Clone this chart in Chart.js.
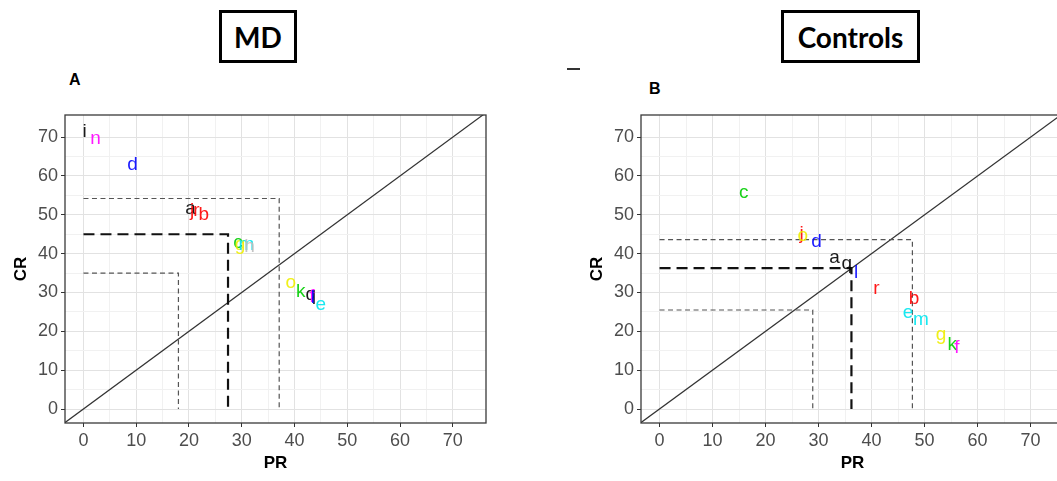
<!DOCTYPE html>
<html>
<head>
<meta charset="utf-8">
<script src="https://cdn.jsdelivr.net/npm/chart.js@4"></script>
<style>
  html, body { margin: 0; padding: 0; background: #fff; width: 1057px; height: 481px; overflow: hidden; }
  .panel { position: absolute; top: 100px; width: 500px; height: 381px; }
  .boxtitle { position: absolute; top: 10px; height: 53px; box-sizing: border-box; border: 3px solid #000;
              display: flex; align-items: center; justify-content: center;
              font: bold 28px Lato, "Open Sans", sans-serif; color: #000; }
  .tag { position: absolute; font: bold 16px "Liberation Sans", Arial, sans-serif; color: #000; }
  .dash { position: absolute; left: 567px; top: 68px; width: 13px; height: 2px; background: #333; }
</style>
</head>
<body>
<div class="boxtitle" style="left:219px;width:78px;">MD</div>
<div class="boxtitle" style="left:781px;width:139px;">Controls</div>
<div class="tag" style="left:69px;top:71px;">A</div>
<div class="dash"></div>
<div class="tag" style="left:649px;top:80px;">B</div>
<div class="panel" style="left:0px;"><canvas id="md" width="500" height="381"></canvas></div>
<div class="panel" style="left:576px;"><canvas id="ctl" width="500" height="381"></canvas></div>

<script>
// Axis ticks (labelled every 10, minor grid every 5)
const majorTicks = [0, 10, 20, 30, 40, 50, 60, 70];
const minorTicks = [5, 15, 25, 35, 45, 55, 65];

// MD group: subject letters with PR and CR values
const mdLetters = ['i', 'n', 'd', 'a', 'j', 'r', 'b', 'c', 'g', 'm', 'h', 'o', 'k', 'q', 'f', 'l', 'e'];
const mdPR      = [0.2, 2.3, 9.3, 20.3, 20.6, 21.4, 22.8, 29.3, 29.7, 30.9, 31.5, 39.3, 41.2, 43.1, 43.3, 43.5, 45.0];
const mdCR      = [71.5, 69.7, 62.8, 51.5, 51.0, 51.0, 50.0, 42.8, 42.4, 42.2, 41.7, 32.4, 30.1, 29.3, 29.0, 28.6, 26.8];

// MD reference lines: low, mean, high
const mdGuidePR = [18.0, 27.4, 37.1];
const mdGuideCR = [35.0, 45.0, 54.2];

// Control group
const ctlLetters = ['c', 'j', 'o', 'd', 'a', 'q', 'l', 'r', 'b', 'e', 'm', 'g', 'k', 'f'];
const ctlPR      = [15.9, 26.8, 27.0, 29.6, 33.0, 35.3, 37.1, 40.9, 48.0, 46.9, 49.3, 53.1, 55.2, 56.1];
const ctlCR      = [55.6, 45.0, 44.5, 43.0, 38.9, 37.5, 35.0, 30.9, 28.3, 24.7, 22.9, 19.0, 16.5, 15.7];

const ctlGuidePR = [28.9, 36.2, 47.7];
const ctlGuideCR = [25.5, 36.3, 43.6];

// Letter colours cycle through the classic eight-colour palette
const paletteColours = ['#000000', '#FF0000', '#00CD00', '#0000FF', '#00E5EE', '#FF00FF', '#EEEE00', '#BEBEBE'];
function letterColour(ch) {
  return paletteColours[(ch.charCodeAt(0) - 97) % paletteColours.length];
}

const axisFont = '"Liberation Sans", Arial, sans-serif';

// Draws each subject letter at its (PR, CR) position, plus the panel border
const letterPlugin = {
  id: 'letters',
  afterDatasetsDraw(chart) {
    const { ctx, chartArea, scales } = chart;
    const pts = chart.config.options.plugins.letters;
    ctx.save();
    ctx.font = '19px ' + axisFont;
    ctx.textAlign = 'center';
    ctx.textBaseline = 'middle';
    pts.letters.forEach((ch, i) => {
      ctx.fillStyle = letterColour(ch);
      ctx.globalAlpha = 0.9;
      ctx.fillText(ch, scales.x.getPixelForValue(pts.pr[i]), scales.y.getPixelForValue(pts.cr[i]));
    });
    ctx.globalAlpha = 1;
    ctx.strokeStyle = '#3a3a3a';
    ctx.lineWidth = 1.3;
    ctx.strokeRect(chartArea.left, chartArea.top, chartArea.right - chartArea.left, chartArea.bottom - chartArea.top);
    ctx.restore();
  }
};

function guideLine(px, cy, thick) {
  return {
    data: [{ x: 0, y: cy }, { x: px, y: cy }, { x: px, y: 0 }],
    showLine: true,
    borderColor: thick ? '#111' : '#555',
    borderWidth: thick ? 2.2 : 1.2,
    borderDash: thick ? [11, 6] : [5, 3.5],
    pointRadius: 0,
    fill: false
  };
}

function buildScale(titleText, isX) {
  return {
    type: 'linear',
    min: isX ? -3.5 : -3.6,
    max: isX ? 76.3 : 75.7,
    afterBuildTicks(scale) {
      scale.ticks = majorTicks.concat(minorTicks).sort((a, b) => a - b).map(v => ({ value: v }));
    },
    afterFit(scale) {
      if (isX) scale.height = 58; else scale.width = 65;
    },
    border: { display: false },
    grid: {
      color: c => (c.tick && c.tick.value % 10 === 0) ? '#e2e2e2' : '#f1f1f1',
      lineWidth: 1,
      tickLength: 4,
      tickColor: c => (c.tick && c.tick.value % 10 === 0) ? '#333' : 'rgba(0,0,0,0)'
    },
    ticks: {
      autoSkip: false,
      maxRotation: 0,
      padding: 3,
      color: '#4d4d4d',
      font: { size: 18, family: axisFont },
      callback: v => (v % 10 === 0 ? v : '')
    },
    title: {
      display: true,
      text: titleText,
      color: '#000',
      font: { size: 17, weight: 'bold', family: axisFont },
      padding: isX ? { top: 0, bottom: 7 } : { top: 11, bottom: 0 }
    }
  };
}

function makePanel(id, letters, pr, cr, gPR, gCR, rightPad) {
  const datasets = [
    guideLine(gPR[0], gCR[0], false),
    guideLine(gPR[2], gCR[2], false),
    guideLine(gPR[1], gCR[1], true),
    {
      // identity line PR = CR
      data: [{ x: -10, y: -10 }, { x: 100, y: 100 }],
      showLine: true, borderColor: '#333', borderWidth: 1.2, pointRadius: 0, fill: false
    },
    {
      data: pr.map((v, i) => ({ x: v, y: cr[i] })),
      pointRadius: 0, showLine: false
    }
  ];
  return new Chart(document.getElementById(id), {
    type: 'scatter',
    data: { datasets },
    options: {
      responsive: false,
      animation: false,
      devicePixelRatio: 1,
      layout: { padding: { left: 0, top: 15, right: rightPad, bottom: 0 } },
      scales: { x: buildScale('PR', true), y: buildScale('CR', false) },
      plugins: {
        legend: { display: false },
        tooltip: { enabled: false },
        letters: { letters, pr, cr }
      }
    },
    plugins: [letterPlugin]
  });
}

makePanel('md', mdLetters, mdPR, mdCR, mdGuidePR, mdGuideCR, 14);
makePanel('ctl', ctlLetters, ctlPR, ctlCR, ctlGuidePR, ctlGuideCR, 12);
</script>
</body>
</html>
